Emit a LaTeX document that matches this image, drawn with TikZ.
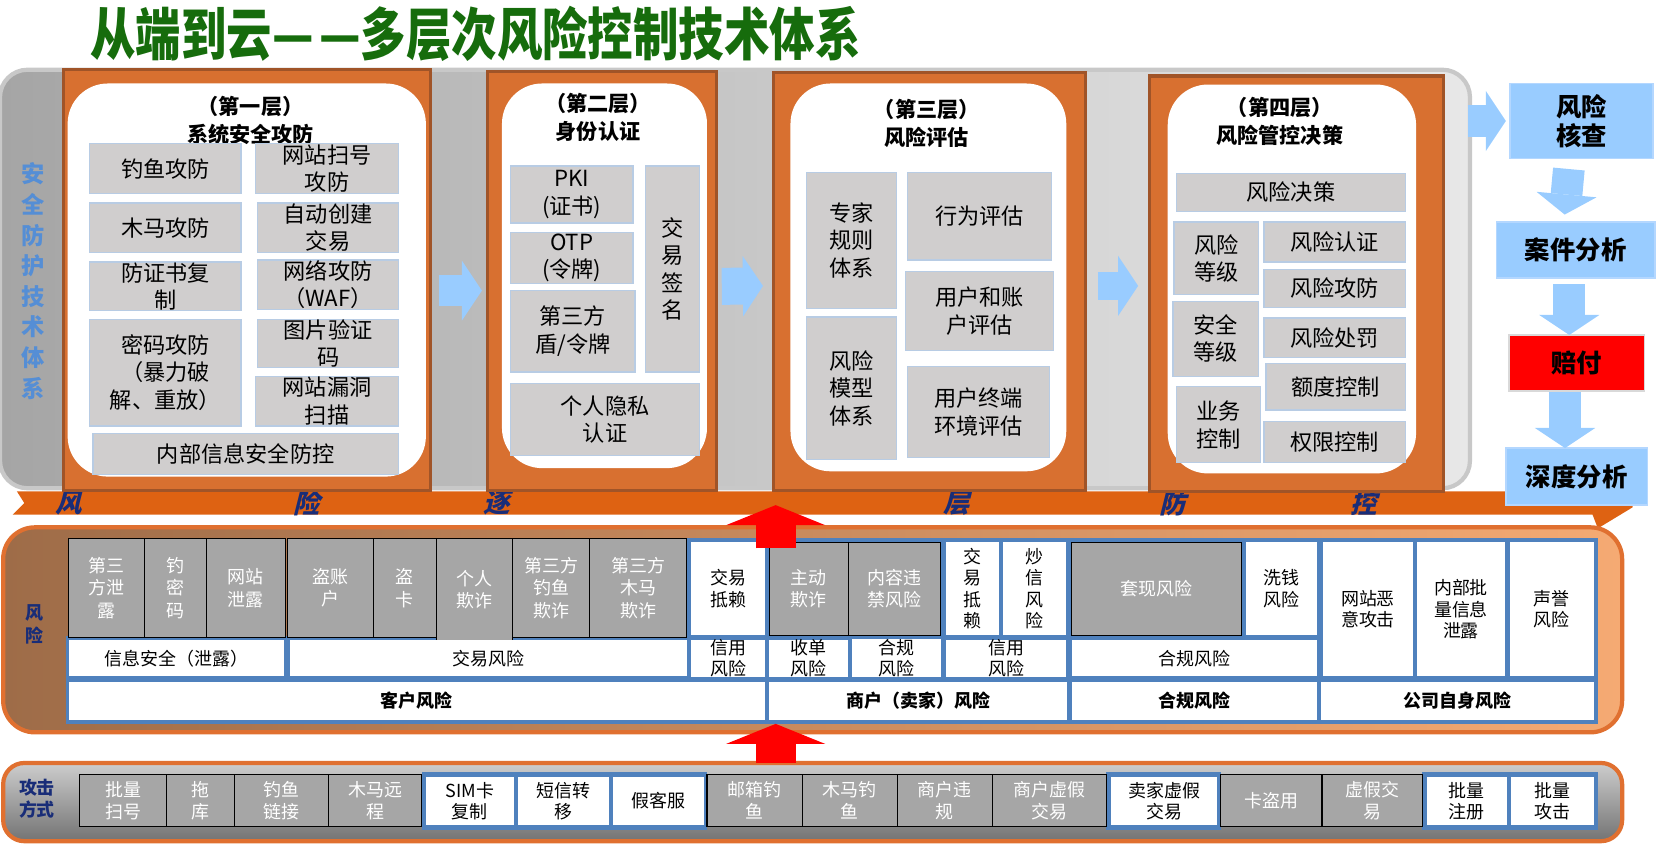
\documentclass[tikz,border=0pt]{standalone}
\usepackage{fontspec}
\newfontfamily\cjk{Noto Sans CJK SC}
\newfontfamily\cjksl{Noto Sans CJK SC}[FakeSlant=0.25]
\usetikzlibrary{arrows.meta}
\definecolor{ttlgreen}{RGB}{22,108,12}
\definecolor{pnlleft}{RGB}{165,165,165}
\definecolor{pnlright}{RGB}{232,232,232}
\definecolor{pnlbrd}{RGB}{200,200,200}
\definecolor{layorange}{RGB}{216,112,48}
\definecolor{laybrown}{RGB}{160,84,40}
\definecolor{cellgray}{RGB}{208,206,206}
\definecolor{cellline}{RGB}{184,204,228}
\definecolor{skyblue}{RGB}{153,204,255}
\definecolor{skyline}{RGB}{180,215,255}
\definecolor{sideblue}{RGB}{85,142,213}
\definecolor{navyblue}{RGB}{25,45,120}
\definecolor{bandorange}{RGB}{222,98,18}
\definecolor{riskleft}{RGB}{158,108,72}
\definecolor{riskright}{RGB}{245,170,115}
\definecolor{riskline}{RGB}{224,112,48}
\definecolor{riskgray}{RGB}{166,166,166}
\definecolor{tblue}{RGB}{79,129,189}
\definecolor{atktop}{RGB}{205,205,205}
\definecolor{atkbot}{RGB}{115,115,115}

\begin{document}
\begin{tikzpicture}[x=1pt,y=-1pt,
  spans/.style n args={4}{at={({(#1+#3)/2},{(#2+#4)/2})},minimum width={(#3-#1)*1pt},minimum height={(#4-#2)*1pt}},
  box/.style={inner sep=0pt,outer sep=0pt},
  panel/.style={box,left color=pnlleft,right color=pnlright,draw=pnlbrd,line width=4pt,rounded corners=26pt},
  layer/.style={box,fill=layorange,draw=laybrown,line width=3pt},
  inner/.style={box,fill=white,rounded corners=38pt},
  ltitle/.style={align=center,font=\cjk\bfseries\fontsize{20}{27}\selectfont},
  gcell/.style={box,fill=cellgray,draw=cellline,line width=1.2pt,align=center,font=\cjk\fontsize{21}{26}\selectfont},
  sidebox/.style={box,fill=skyblue,draw=skyline,line width=1.5pt,align=center,font=\cjk\bfseries\fontsize{24}{28}\selectfont},
  barrow/.style={draw=skyblue,line width=30pt,-{Triangle[length=19pt,width=57pt,line width=0pt]}},
  rarrow/.style={draw=red,line width=38pt,-{Triangle[length=19pt,width=94pt,line width=0pt]}},
  riskp/.style={box,left color=riskleft,right color=riskright,draw=riskline,line width=4pt,rounded corners=30pt},
  atkp/.style={box,top color=atktop,bottom color=atkbot,draw=riskline,line width=4pt,rounded corners=20pt},
  rcell/.style={box,fill=riskgray,draw=black,line width=1pt,text=white,align=center,font=\cjk\fontsize{17}{21}\selectfont},
  wcell/.style={box,fill=white,align=center,font=\cjk\fontsize{17}{20}\selectfont},
  bcell/.style={wcell,font=\cjk\bfseries\fontsize{17}{20}\selectfont},
  navy/.style={text=navyblue,align=center,font=\cjk\bfseries\fontsize{17}{22}\selectfont},
  bandtxt/.style={text=navyblue,font=\cjksl\bfseries\fontsize{25}{25}\selectfont}]
\useasboundingbox (0,0) rectangle (1568,802);

% title
\node[text=ttlgreen,font=\cjk\bfseries\fontsize{43}{43}\selectfont] (ttl) at (450,32) {\scalebox{1}[1.25]{从端到云—\hspace{5pt}—多层次风险控制技术体系}};

% grey panel and side label
\node[panel, spans={0}{66}{1391}{462}] (pnl) {};
\node[text=sideblue,align=center,font=\cjk\bfseries\fontsize{22}{29}\selectfont] (side) at (31,266) {安\\全\\防\\护\\技\\术\\体\\系};

% orange band
\fill[bandorange] (16,465) -- (1545,465) -- (1545,480) -- (1512,500) -- (1507,487) -- (12,487) -- (23,476) -- cycle;
\node[bandtxt] (bd1) at (65,476) {风};
\node[bandtxt] (bd2) at (290,476) {险};
\node[bandtxt] (bd3) at (470,476) {逐};
\node[bandtxt] (bd4) at (905,476) {层};
\node[bandtxt] (bd5) at (1110,476) {防};
\node[bandtxt] (bd6) at (1290,476) {控};

% layer 1
\node[layer, spans={60}{66}{407}{464}] (lay1) {};
\node[inner, spans={64}{79}{403}{451}] (in1) {};
\node[ltitle] (tt1) at (237,114) {（第一层）\\系统安全攻防};
\node[gcell, spans={85}{136}{228}{183}] (l1a) {钓鱼攻防};
\node[gcell, spans={242}{136}{377}{183}] (l1b) {网站扫号\\攻防};
\node[gcell, spans={85}{192}{228}{239}] (l1c) {木马攻防};
\node[gcell, spans={244}{192}{377}{239}] (l1d) {自动创建\\交易};
\node[gcell, spans={85}{248}{228}{294}] (l1e) {防证书复\\制};
\node[gcell, spans={244}{246}{377}{293}] (l1f) {网络攻防\\（WAF）};
\node[gcell, spans={85}{302}{228}{403}] (l1g) {密码攻防\\（暴力破\\解、重放）};
\node[gcell, spans={244}{302}{377}{348}] (l1h) {图片验证\\码};
\node[gcell, spans={242}{356}{377}{403}] (l1i) {网站漏洞\\扫描};
\node[gcell, spans={88}{410}{377}{449}] (l1j) {内部信息安全防控};

% layer 2
\node[layer, spans={461}{68}{678}{464}] (lay2) {};
\node[inner, spans={475}{79}{669}{443}] (in2) {};
\node[ltitle] (tt2) at (566,111) {（第二层）\\身份认证};
\node[gcell, spans={483}{157}{599}{211}] (l2a) {PKI\\(证书)};
\node[gcell, spans={483}{220}{599}{268}] (l2b) {OTP\\(令牌)};
\node[gcell, spans={483}{275}{601}{352}] (l2c) {第三方\\盾/令牌};
\node[gcell, spans={611}{157}{662}{352}] (l2d) {交\\易\\签\\名};
\node[gcell, spans={483}{363}{662}{431}] (l2e) {个人隐私\\认证};

% layer 3
\node[layer, spans={732}{69}{1027}{464}] (lay3) {};
\node[inner, spans={748}{79}{1009}{446}] (in3) {};
\node[ltitle] (tt3) at (877,117) {（第三层）\\风险评估};
\node[gcell, spans={763}{163}{848}{292}] (l3a) {专家\\规则\\体系};
\node[gcell, spans={763}{300}{848}{435}] (l3b) {风险\\模型\\体系};
\node[gcell, spans={859}{163}{995}{246}] (l3c) {行为评估};
\node[gcell, spans={857}{257}{997}{332}] (l3d) {用户和账\\户评估};
\node[gcell, spans={859}{347}{993}{433}] (l3e) {用户终端\\环境评估};

% layer 4
\node[layer, spans={1088}{72}{1366}{465}] (lay4) {};
\node[inner, spans={1105}{80}{1340}{448}] (in4) {};
\node[ltitle] (tt4) at (1211,115) {（第四层）\\风险管控决策};
\node[gcell, spans={1113}{164}{1330}{200}] (l4a) {风险决策};
\node[gcell, spans={1111}{210}{1191}{279}] (l4b) {风险\\等级};
\node[gcell, spans={1110}{285}{1191}{356}] (l4c) {安全\\等级};
\node[gcell, spans={1113}{366}{1193}{438}] (l4d) {业务\\控制};
\node[gcell, spans={1196}{210}{1330}{248}] (l4e) {风险认证};
\node[gcell, spans={1196}{255}{1330}{291}] (l4f) {风险攻防};
\node[gcell, spans={1196}{301}{1330}{338}] (l4g) {风险处罚};
\node[gcell, spans={1198}{344}{1330}{388}] (l4h) {额度控制};
\node[gcell, spans={1196}{399}{1330}{438}] (l4i) {权限控制};

% arrows between layers
\draw[barrow, shorten <=8pt, shorten >=5pt] ([yshift=-10pt]lay1.east) -- ([yshift=-9pt]lay2.west);
\draw[barrow, line width=35pt, shorten <=5pt, shorten >=10pt] ([yshift=-5pt]lay2.east) -- ([yshift=-4pt]lay3.west);
\draw[barrow, line width=26pt, shorten <=12pt, shorten >=11pt] ([yshift=-4pt]lay3.east) -- ([yshift=-2pt]lay4.west);

% right column
\node[sidebox, spans={1429}{79}{1564}{150}] (chk) {风险\\核查};
\node[sidebox, spans={1416}{210}{1566}{263}] (case) {案件分析};
\node[sidebox, fill=red, draw=black!15, spans={1428}{317}{1556}{370}] (pay) {赔付};
\node[sidebox, spans={1425}{424}{1559}{478}] (deep) {深度分析};
\draw[barrow, shorten <=-2pt, shorten >=4pt] (pnl.east |- chk.west) -- (chk.west);
\draw[barrow, shorten <=10pt, shorten >=7pt] ([xshift=-11pt]chk.south) -- ([xshift=-11pt]case.north);
\draw[barrow, shorten <=6pt] ([xshift=-6pt]case.south) -- ([xshift=-6pt]case.south |- pay.north);
\draw[barrow, shorten <=1pt] ([xshift=-11pt]pay.south) -- ([xshift=-11pt]pay.south |- deep.north);

% risk panel
\node[riskp, spans={3}{499}{1535}{693}] (risk) {};
\node[navy] (rlab) at (33,591) {风\\险};
\fill[tblue] (650,509) rectangle (1512,685);
\fill[tblue] (62,602) rectangle (1512,685);
\node[rcell, spans={65}{510}{137}{603}] (r1) {第三\\方泄\\露};
\node[rcell, spans={137}{510}{195}{603}] (r2) {钓\\密\\码};
\node[rcell, spans={195}{510}{270}{603}] (r3) {网站\\泄露};
\node[rcell, spans={272}{510}{353}{603}] (r4) {盗账\\户};
\node[rcell, spans={353}{510}{413}{603}] (r5) {盗\\卡};
\node[rcell, spans={413}{510}{485}{606}] (r6) {个人\\欺诈};
\node[rcell, spans={485}{510}{558}{603}] (r7) {第三方\\钓鱼\\欺诈};
\node[rcell, spans={558}{510}{650}{603}] (r8) {第三方\\木马\\欺诈};
\node[wcell, spans={654}{513}{724}{601}] (r9) {交易\\抵赖};
\node[rcell, spans={728}{513}{803}{601}] (r10) {主动\\欺诈};
\node[rcell, spans={803}{513}{890}{601}] (r11) {内容违\\禁风险};
\node[wcell, spans={895}{513}{945}{601}] (r12) {交\\易\\抵\\赖};
\node[wcell, spans={949}{513}{1009}{601}] (r13) {炒\\信\\风\\险};
\node[rcell, spans={1014}{513}{1175}{601}] (r14) {套现风险};
\node[wcell, spans={1179}{513}{1246}{601}] (r15) {洗钱\\风险};
\node[wcell, spans={1252}{513}{1337}{640}] (r16) {网站恶\\意攻击};
\node[wcell, spans={1341}{513}{1424}{640}] (r17) {内部批\\量信息\\泄露};
\node[wcell, spans={1429}{513}{1508}{640}] (r18) {声誉\\风险};
\node[wcell, spans={65}{606}{269}{640}] (s1) {信息安全（泄露）};
\node[wcell, spans={274}{606}{650}{640}] (s2) {交易风险};
\node[wcell, spans={654}{606}{724}{640}] (s3) {信用\\风险};
\node[wcell, spans={728}{606}{802}{640}] (s4) {收单\\风险};
\node[wcell, spans={806}{606}{890}{640}] (s5) {合规\\风险};
\node[wcell, spans={895}{606}{1009}{640}] (s6) {信用\\风险};
\node[wcell, spans={1014}{606}{1246}{640}] (s7) {合规风险};
\node[bcell, spans={65}{645}{724}{681}] (c1) {客户风险};
\node[bcell, spans={728}{645}{1010}{681}] (c2) {商户（卖家）风险};
\node[bcell, spans={1014}{645}{1246}{681}] (c3) {合规风险};
\node[bcell, spans={1250}{645}{1508}{681}] (c4) {公司自身风险};

% attack panel
\node[atkp, spans={3}{722}{1535}{796}] (atk) {};
\node[navy, font=\cjk\bfseries\fontsize{17}{21}\selectfont] (alab) at (35,756) {攻击\\方式};
\fill[tblue] (399,731) rectangle (669,785);
\fill[tblue] (1047,731) rectangle (1155,785);
\fill[tblue] (1346,731) rectangle (1512,785);
\node[rcell, spans={75}{733}{158}{782}] (a1) {批量\\扫号};
\node[rcell, spans={158}{733}{222}{782}] (a2) {拖\\库};
\node[rcell, spans={222}{733}{311}{782}] (a3) {钓鱼\\链接};
\node[rcell, spans={311}{733}{399}{782}] (a4) {木马远\\程};
\node[wcell, spans={403}{735}{486}{781}] (a5) {SIM卡\\复制};
\node[wcell, spans={490}{735}{576}{781}] (a6) {短信转\\移};
\node[wcell, spans={580}{735}{666}{781}] (a7) {假客服};
\node[rcell, spans={669}{733}{759}{782}] (a8) {邮箱钓\\鱼};
\node[rcell, spans={759}{733}{849}{782}] (a9) {木马钓\\鱼};
\node[rcell, spans={849}{733}{939}{782}] (a10) {商户违\\规};
\node[rcell, spans={939}{733}{1047}{782}] (a11) {商户虚假\\交易};
\node[wcell, spans={1051}{735}{1152}{781}] (a12) {卖家虚假\\交易};
\node[rcell, spans={1155}{733}{1251}{782}] (a13) {卡盗用};
\node[rcell, spans={1251}{733}{1346}{782}] (a14) {虚假交\\易};
\node[wcell, spans={1350}{735}{1426}{781}] (a15) {批量\\注册};
\node[wcell, spans={1430}{735}{1508}{781}] (a16) {批量\\攻击};

% red arrows
\draw[rarrow] ([xshift=-35pt,yshift=-20pt]risk.north) -- ([xshift=-35pt,yshift=21pt]risk.north);
\draw[rarrow] ([xshift=-35pt]atk.north) -- ([xshift=-35pt,yshift=8pt]risk.south);
\end{tikzpicture}
\end{document}
